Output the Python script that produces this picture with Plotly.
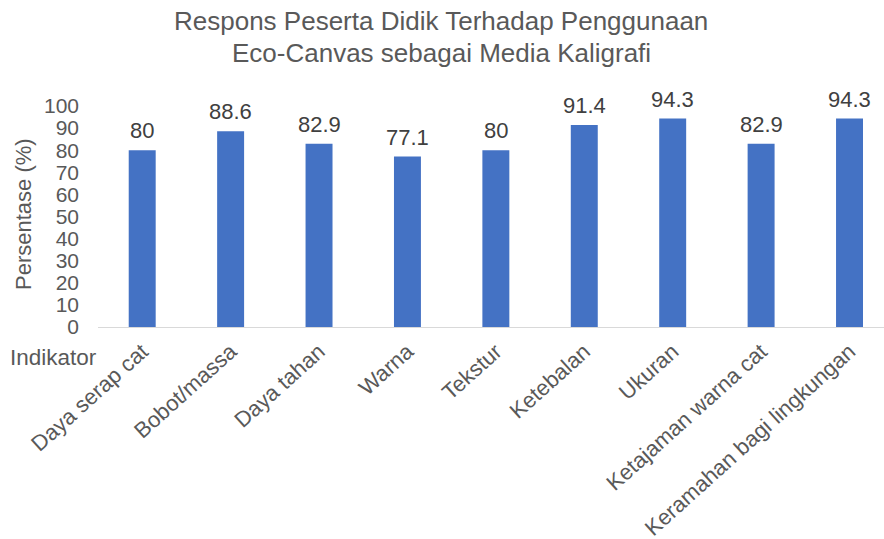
import plotly.graph_objects as go

categories = ["Daya serap cat", "Bobot/massa", "Daya tahan", "Warna", "Tekstur",
              "Ketebalan", "Ukuran", "Ketajaman warna cat", "Keramahan bagi lingkungan"]
values = [80, 88.6, 82.9, 77.1, 80, 91.4, 94.3, 82.9, 94.3]
y_ticks = list(range(0, 101, 10))
title_lines = ["Respons Peserta Didik Terhadap Penggunaan", "Eco-Canvas sebagai Media Kaligrafi"]

FONT = "Liberation Sans, Arial, sans-serif"
GRAY = "#595959"

W, H = 884, 539
L, R, T, B = 98, 0, 106, 212
plot_w = W - L - R
plot_h = H - T - B

def px_x(pix):
    return (pix - L) / plot_w

def px_y(pix):
    return (H - B - pix) / plot_h

fig = go.Figure(go.Bar(
    x=categories, y=values,
    marker=dict(color="#4472C4", line=dict(width=0)),
    width=0.305,
    cliponaxis=False,
    hoverinfo="x+y",
))

for c, v in zip(categories, values):
    fig.add_annotation(x=c, y=v, xref="x", yref="y", text=f"{v:g}", showarrow=False,
                       yanchor="bottom", yshift=5,
                       font=dict(family=FONT, size=22, color="#404040"))

for i, line in enumerate(title_lines):
    fig.add_annotation(text=line, xref="paper", yref="paper",
                       x=px_x(441), y=px_y(21 + 32 * i),
                       xanchor="center", yanchor="middle", showarrow=False,
                       font=dict(family=FONT, size=26, color=GRAY))

fig.add_annotation(
    text="Indikator", xref="paper", yref="paper", x=px_x(8), y=px_y(357),
    xanchor="left", yanchor="middle", showarrow=False,
    font=dict(family=FONT, size=22.5, color=GRAY),
)

fig.add_annotation(
    text="Persentase (%)", xref="paper", yref="paper", x=px_x(23), y=px_y(214),
    xanchor="center", yanchor="middle", showarrow=False, textangle=-90,
    font=dict(family=FONT, size=22, color=GRAY),
)

fig.update_layout(
    width=W, height=H,
    margin=dict(l=L, r=R, t=T, b=B),
    paper_bgcolor="white", plot_bgcolor="white",
    showlegend=False,
)
fig.update_xaxes(
    range=[-0.5, 8.39],
    tickangle=-42,
    tickfont=dict(family=FONT, size=22, color=GRAY),
    showline=True, linecolor="#D9D9D9", linewidth=1,
    showgrid=False, ticks="", zeroline=False,
    automargin=False, ticklabelstandoff=2,
)
fig.update_yaxes(
    range=[0, 100],
    tickvals=y_ticks,
    tickfont=dict(family=FONT, size=21, color=GRAY),
    showgrid=False, zeroline=False, showline=False,
    ticklabelstandoff=18, automargin=False,
)

fig.write_html("out.html", config={"displayModeBar": False},
               post_script="document.body.style.margin='0';document.body.style.padding='0';")
